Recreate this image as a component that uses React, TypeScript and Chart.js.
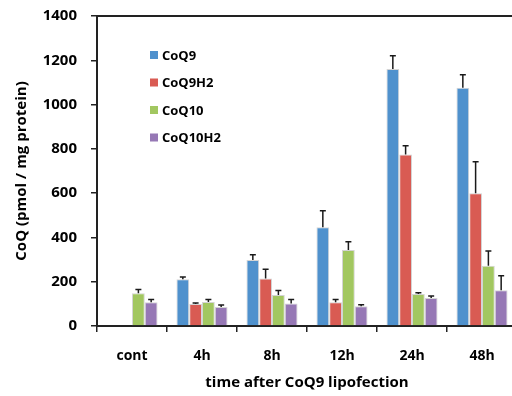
import React, { useEffect, useRef } from 'react';
import { Chart, registerables } from 'chart.js';

Chart.register(...registerables);

const categories = ['cont', '4h', '8h', '12h', '24h', '48h'];
const seriesNames = ['CoQ9', 'CoQ9H2', 'CoQ10', 'CoQ10H2'];
const seriesColors = ['#4F91CD', '#D95B53', '#A2C760', '#9678B5'];

const coq9 = [null, 211, 298, 446, 1161, 1076];
const coq9Err = [null, 10, 24, 75, 59, 59];
const coq9h2 = [null, 99, 215, 107, 774, 599];
const coq9h2Err = [null, 5, 41, 13, 40, 143];
const coq10 = [148, 108, 140, 343, 145, 272];
const coq10Err = [17, 12, 20, 38, 5, 67];
const coq10h2 = [107, 86, 102, 89, 126, 161];
const coq10h2Err = [13, 9, 18, 7, 9, 66];

const yMin = 0;
const yMax = 1400;
const yStep = 200;

const xTitle = 'time after CoQ9 lipofection';
const yTitle = 'CoQ (pmol / mg protein)';

const seriesValues = [coq9, coq9h2, coq10, coq10h2];
const seriesErrors = [coq9Err, coq9h2Err, coq10Err, coq10h2Err];

const FONT = '"Open Sans", Lato, sans-serif';

const errorBarPlugin = {
  id: 'errorBars',
  afterDatasetsDraw(chart: any) {
    const { ctx } = chart;
    const y = chart.scales.y;
    ctx.save();
    ctx.strokeStyle = '#1a1a1a';
    ctx.lineWidth = 1.5;
    chart.data.datasets.forEach((ds: any, i: number) => {
      const meta = chart.getDatasetMeta(i);
      const errs = seriesErrors[i];
      meta.data.forEach((bar: any, j: number) => {
        const v = ds.data[j];
        const e = errs[j];
        if (v == null || e == null) return;
        const x = bar.x;
        const yTop = y.getPixelForValue(v + e);
        const yBase = bar.y;
        ctx.beginPath();
        ctx.moveTo(x, yBase);
        ctx.lineTo(x, yTop);
        ctx.moveTo(x - 3, yTop);
        ctx.lineTo(x + 3, yTop);
        ctx.stroke();
      });
    });
    ctx.restore();
  },
};

const framePlugin = {
  id: 'frameLegend',
  afterDraw(chart: any) {
    const { ctx, chartArea } = chart;
    ctx.save();
    ctx.strokeStyle = '#222';
    ctx.lineWidth = 2;
    ctx.beginPath();
    ctx.moveTo(chartArea.left, chartArea.top);
    ctx.lineTo(chartArea.right, chartArea.top);
    ctx.lineTo(chartArea.right, chartArea.bottom);
    ctx.stroke();
    // legend
    const x0 = chartArea.left + 53;
    const y0 = chartArea.top + 39;
    const gap = 27.5;
    ctx.font = 'bold 13px ' + FONT;
    ctx.textBaseline = 'middle';
    ctx.textAlign = 'left';
    chart.data.datasets.forEach((ds: any, i: number) => {
      const cy = y0 + i * gap;
      ctx.fillStyle = ds.backgroundColor;
      ctx.fillRect(x0, cy - 4, 8, 8);
      ctx.fillStyle = '#000';
      ctx.fillText(ds.label, x0 + 12, cy + 1);
    });
    ctx.restore();
  },
};

export default function App() {
  const ref = useRef<HTMLCanvasElement | null>(null);

  useEffect(() => {
    if (!ref.current) return;
    const chart = new Chart(ref.current, {
      type: 'bar',
      data: {
        labels: categories,
        datasets: seriesNames.map((name, i) => ({
          label: name,
          data: seriesValues[i],
          backgroundColor: seriesColors[i],
          borderColor: '#d4d4d4',
          borderWidth: 1,
          categoryPercentage: 0.73,
          barPercentage: 1,
        })),
      },
      options: {
        responsive: false,
        animation: false,
        layout: { padding: { top: 16, right: 3, left: 0, bottom: 0 } },
        plugins: {
          legend: { display: false },
          tooltip: { enabled: false },
        },
        scales: {
          x: {
            grid: {
              display: true,
              drawOnChartArea: false,
              drawTicks: true,
              tickLength: 6,
              color: '#222',
              lineWidth: 1.5,
              offset: true,
            },
            border: { display: true, color: '#222', width: 2 },
            ticks: {
              color: '#000',
              font: { family: FONT, size: 14, weight: 'bold' },
              padding: 16,
              maxRotation: 0,
            },
            title: {
              display: true,
              text: xTitle,
              color: '#000',
              font: { family: FONT, size: 15, weight: 'bold' },
              padding: { top: 0, bottom: 4 },
            },
            afterFit: (s: any) => {
              s.height = 70;
              s.paddingLeft = 0;
              s.paddingRight = 0;
            },
          } as any,
          y: {
            min: yMin,
            max: yMax,
            ticks: {
              stepSize: yStep,
              color: '#000',
              font: { family: FONT, size: 15, weight: 'bold' },
              padding: 14,
              callback: (v: any) => String(v),
            },
            grid: {
              display: true,
              drawOnChartArea: false,
              drawTicks: true,
              tickLength: 6,
              color: '#222',
              lineWidth: 1.5,
            },
            border: { display: true, color: '#222', width: 2 },
            title: {
              display: true,
              text: yTitle,
              color: '#000',
              font: { family: FONT, size: 15, weight: 'bold' },
              padding: { top: 13, bottom: 0 },
            },
            afterFit: (s: any) => {
              s.width = 97;
              s.paddingTop = 0;
              s.paddingBottom = 0;
            },
          } as any,
        },
      },
      plugins: [errorBarPlugin, framePlugin],
    });
    return () => chart.destroy();
  }, []);

  return (
    <div
      style={{
        position: 'fixed',
        left: 0,
        top: 0,
        width: 512,
        height: 396,
        overflow: 'hidden',
        background: '#fff',
      }}
    >
      <canvas ref={ref} width={520} height={396} style={{ display: 'block' }} />
    </div>
  );
}
